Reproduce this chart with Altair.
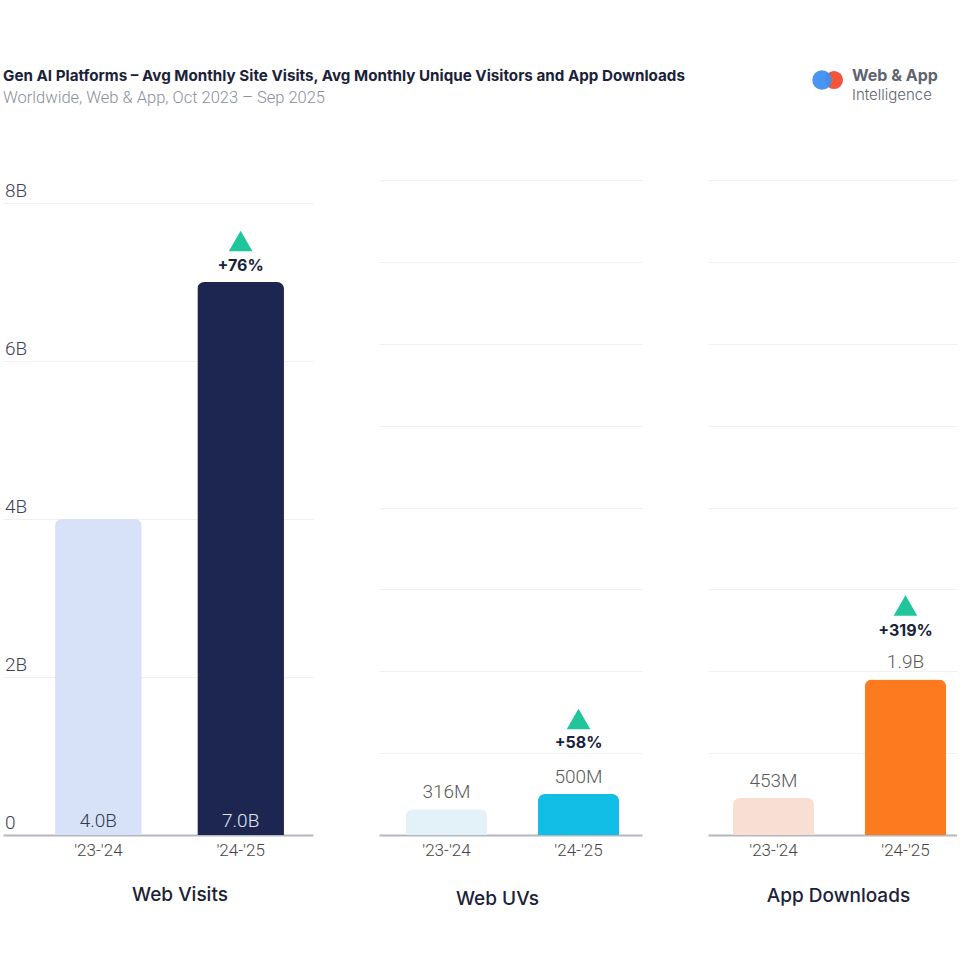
import altair as alt
import pandas as pd

# ---- data -------------------------------------------------------------
periods = ["'23-'24", "'24-'25"]

web_visits = [4.0e9, 7.0e9]
web_visit_labels = ["4.0B", "7.0B"]
web_uvs = [316e6, 500e6]
web_uv_labels = ["316M", "500M"]
app_downloads = [453e6, 1.9e9]
app_download_labels = ["453M", "1.9B"]

growth_labels = ["+76%", "+58%", "+319%"]
panel_titles = ["Web Visits", "Web UVs", "App Downloads"]

visit_colors = ["#d7e1f8", "#1d2650"]
uv_colors = ["#e3f1f8", "#12bde6"]
download_colors = ["#f9dfd3", "#fd7a1f"]
visit_label_colors = ["#363c4c", "#e3e6ef"]

visit_ticks = [0, 2e9, 4e9, 6e9, 8e9]
visit_tick_labels = ["0", "2B", "4B", "6B", "8B"]
visit_grid = [2e9, 4e9, 6e9, 8e9]
other_grid = [1e9, 2e9, 3e9, 4e9, 5e9, 6e9, 7e9, 8e9]

title_text = "Gen AI Platforms – Avg Monthly Site Visits, Avg Monthly Unique Visitors and App Downloads"
subtitle_text = "Worldwide, Web & App, Oct 2023 – Sep 2025"
brand_lines = ["Web & App", "Intelligence"]

# ---- styling ----------------------------------------------------------
LABEL_FONT = "Roboto"
HEAD_FONT = "Inter"
NAVY = "#1b2238"
UP_GREEN = "#20c59b"
PLOT_H = 655


def panel(values, labels, colors, growth, title, width, pad_inner, pad_outer,
          align, y_max, grid_values, title_x, title_y, inside=False,
          label_colors=None, pct_dy=-16, tri_dy=-40, val_dy=-17):
    df = pd.DataFrame({
        "period": periods,
        "value": values,
        "label": labels,
        "color": colors,
        "base": [0, 0],
        "label_color": label_colors or ["#5a5a5a", "#5a5a5a"],
    })
    x = alt.X(
        "period:N", sort=periods,
        scale=alt.Scale(paddingInner=pad_inner, paddingOuter=pad_outer, align=align),
        axis=alt.Axis(
            title=title, labelAngle=0, ticks=False, grid=False,
            labelFont=LABEL_FONT, labelFontSize=17, labelFontWeight=300,
            labelColor="#444444", labelPadding=7,
            domainColor="#b5b7bf", domainWidth=2,
            titleFont=HEAD_FONT, titleFontSize=19, titleFontWeight=500,
            titleColor=NAVY, titleX=title_x, titleY=title_y,
            titleBaseline="middle", titleAlign="center",
        ),
    )
    yscale = alt.Scale(domain=[0, y_max], nice=False, zero=True)
    yaxis = alt.Axis(values=grid_values, grid=True, gridColor="#f1f1f3",
                     gridWidth=1, labels=False, ticks=False, domain=False,
                     title=None)

    base = alt.Chart(df).encode(x=x)
    bars = base.mark_bar(cornerRadiusTopLeft=7, cornerRadiusTopRight=7).encode(
        y=alt.Y("value:Q", scale=yscale, axis=yaxis),
        color=alt.Color("color:N", scale=None),
    )
    layers = [bars]

    if inside:
        values_text = base.mark_text(
            font=LABEL_FONT, fontSize=19, fontWeight=300, baseline="middle", dy=-14
        ).encode(
            y=alt.Y("base:Q", scale=yscale, axis=yaxis),
            text="label:N",
            color=alt.Color("label_color:N", scale=None),
        )
    else:
        values_text = base.mark_text(
            font=LABEL_FONT, fontSize=19, fontWeight=300, baseline="middle", dy=val_dy
        ).encode(
            y=alt.Y("value:Q", scale=yscale, axis=yaxis),
            text="label:N",
            color=alt.Color("label_color:N", scale=None),
        )
    layers.append(values_text)

    latest = base.transform_filter(alt.datum.period == periods[1])
    pct = latest.mark_text(
        font=HEAD_FONT, fontSize=16, fontWeight="bold", color=NAVY,
        baseline="middle", dy=pct_dy,
    ).encode(y=alt.Y("value:Q", scale=yscale, axis=yaxis), text=alt.value(growth))
    tri = latest.mark_point(
        shape="triangle-up", filled=True, size=560, color=UP_GREEN,
        opacity=1, yOffset=tri_dy,
    ).encode(y=alt.Y("value:Q", scale=yscale, axis=yaxis))
    layers += [pct, tri]

    return layers, yscale, yaxis


# Web Visits panel: its own value axis (labels sit above the gridlines)
visit_layers, v_scale, v_axis = panel(
    web_visits, web_visit_labels, visit_colors, growth_labels[0], panel_titles[0],
    width=310, pad_inner=0.391, pad_outer=0.285, align=0.642,
    y_max=8e9 * PLOT_H / 632, grid_values=visit_grid,
    title_x=176.5, title_y=59, inside=True, label_colors=visit_label_colors,
    pct_dy=-16, tri_dy=-41,
)
tick_df = pd.DataFrame({"tick": visit_ticks, "tick_label": visit_tick_labels})
visit_ylabels = alt.Chart(tick_df).mark_text(
    font=LABEL_FONT, fontSize=19, fontWeight=300, color="#3b4156",
    align="left", baseline="alphabetic", dx=2, dy=-6,
).encode(
    x=alt.value(0),
    y=alt.Y("tick:Q", scale=v_scale, axis=v_axis),
    text="tick_label:N",
)
p1 = alt.layer(*visit_layers, visit_ylabels).properties(width=310, height=PLOT_H)

uv_layers, _, _ = panel(
    web_uvs, web_uv_labels, uv_colors, growth_labels[1], panel_titles[1],
    width=263, pad_inner=0.386, pad_outer=0.189, align=0.54,
    y_max=8e9, grid_values=other_grid,
    title_x=118, title_y=63, pct_dy=-51, tri_dy=-75, val_dy=-17,
)
p2 = alt.layer(*uv_layers).properties(width=263, height=PLOT_H)

dl_layers, _, _ = panel(
    app_downloads, app_download_labels, download_colors, growth_labels[2], panel_titles[2],
    width=249, pad_inner=0.386, pad_outer=0.136, align=0.694,
    y_max=8e9, grid_values=other_grid,
    title_x=130, title_y=60, pct_dy=-48, tri_dy=-74, val_dy=-17,
)
p3 = alt.layer(*dl_layers).properties(width=249, height=PLOT_H)

panels = alt.hconcat(p1, p2, p3, spacing=66)

# ---- header: title, subtitle and brand mark --------------------------
one = pd.DataFrame({"k": [0]})
hdr = alt.Chart(one)
head_title = hdr.mark_text(
    font=HEAD_FONT, fontSize=15.2, fontWeight="bold", color=NAVY,
    align="left", baseline="middle",
).encode(x=alt.value(0), y=alt.value(76), text=alt.value(title_text))
head_sub = hdr.mark_text(
    font=LABEL_FONT, fontSize=16.5, fontWeight=300, color="#8a8f9a",
    align="left", baseline="middle",
).encode(x=alt.value(0), y=alt.value(98), text=alt.value(subtitle_text))
brand_red = hdr.mark_circle(size=330, color="#f2553c", opacity=1).encode(
    x=alt.value(831), y=alt.value(80))
brand_blue = hdr.mark_circle(size=380, color="#3f8ff0", opacity=0.95).encode(
    x=alt.value(819), y=alt.value(80))
brand_1 = hdr.mark_text(
    font=HEAD_FONT, fontSize=16, fontWeight="bold", color="#5e6470",
    align="left", baseline="middle",
).encode(x=alt.value(849), y=alt.value(76), text=alt.value(brand_lines[0]))
brand_2 = hdr.mark_text(
    font=HEAD_FONT, fontSize=15, fontWeight=300, color="#5e6470",
    align="left", baseline="middle",
).encode(x=alt.value(849), y=alt.value(95), text=alt.value(brand_lines[1]))
header = alt.layer(head_title, head_sub, brand_red, brand_blue, brand_1, brand_2).properties(
    width=954, height=160)

chart = alt.vconcat(header, panels, spacing=20).properties(
    padding={"left": 3, "top": 0, "right": 0, "bottom": 0},
    background="white",
).configure_view(stroke=None)

chart.save("out.html", embed_options={"renderer": "svg", "actions": False})
